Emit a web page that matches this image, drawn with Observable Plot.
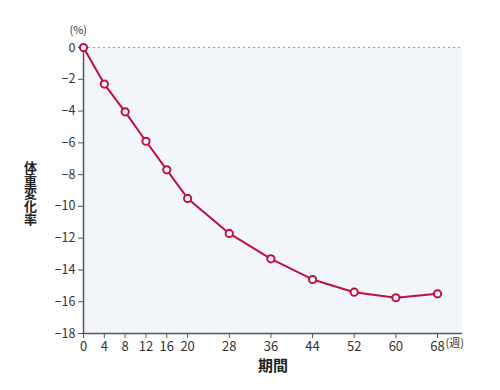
<!DOCTYPE html>
<html><head><meta charset="utf-8">
<script src="https://cdn.jsdelivr.net/npm/d3@7"></script>
<script src="https://cdn.jsdelivr.net/npm/@observablehq/plot@0.6"></script>
<style>
body{margin:0;background:#fff;}
svg{font-family:"Noto Sans CJK JP","Noto Sans",sans-serif;}
.ylab text{writing-mode:vertical-rl;text-orientation:upright;}
</style>
</head><body>
<div id="chart"></div>
<script>
const weeks = [0, 4, 8, 12, 16, 20, 28, 36, 44, 52, 60, 68];
const change = [0, -2.3, -4.05, -5.9, -7.7, -9.5, -11.7, -13.3, -14.6, -15.4, -15.75, -15.5];
const yTicks = [0, -2, -4, -6, -8, -10, -12, -14, -16, -18];
const yLabel = "体重変化率";
const xLabel = "期間";
const yUnit = "(%)";
const xUnit = "(週)";

const data = weeks.map((w, i) => ({week: w, value: change[i]}));
const red = "#c0103f";
const minus = d => d < 0 ? "\u2212" + Math.abs(d) : String(d);

const chart = Plot.plot({
  width: 500,
  height: 390,
  marginLeft: 83,
  marginRight: 38,
  marginTop: 47,
  marginBottom: 57,
  style: {fontSize: "12.5px", color: "#333", background: "#fff"},
  x: {domain: [0, 72.8]},
  y: {domain: [-18, 0]},
  marks: [
    Plot.frame({fill: "#f2f5f9", stroke: null}),
    Plot.ruleY([0], {stroke: "#999", strokeDasharray: "2,3", strokeWidth: 1}),
    Plot.axisY({ticks: yTicks, tickFormat: minus, tickSize: 5, tickPadding: 3, label: null, stroke: "#555", fill: "#333"}),
    Plot.axisX({ticks: weeks, tickFormat: d => String(d), tickSize: 5, tickPadding: 3, label: null, stroke: "#555", fill: "#333", fontSize: 13}),
    Plot.ruleX([0], {stroke: "#555", strokeWidth: 1.5}),
    Plot.ruleY([-18], {stroke: "#555", strokeWidth: 1.5}),
    Plot.line(data, {x: "week", y: "value", stroke: red, strokeWidth: 2}),
    Plot.dot(data, {x: "week", y: "value", r: 3.6, fill: "#fff", stroke: red, strokeWidth: 2}),
    Plot.text([yLabel], {text: d => d, frameAnchor: "left", textAnchor: "middle", dx: -53, dy: -2, fontSize: 13, fontWeight: "bold", fill: "#222", className: "ylab"}),
    Plot.text([yUnit], {text: d => d, frameAnchor: "top-left", dx: -14, dy: -21, fontSize: 11, fill: "#333"}),
    Plot.text([xLabel], {text: d => d, frameAnchor: "bottom", dy: 37, fontSize: 15, fontWeight: "bold", fill: "#222"}),
    Plot.text([xUnit], {text: d => d, x: 68, frameAnchor: "bottom", dx: 8, dy: 13, textAnchor: "start", fontSize: 11, fill: "#333"})
  ]
});
document.getElementById("chart").appendChild(chart);
</script>
</body></html>
